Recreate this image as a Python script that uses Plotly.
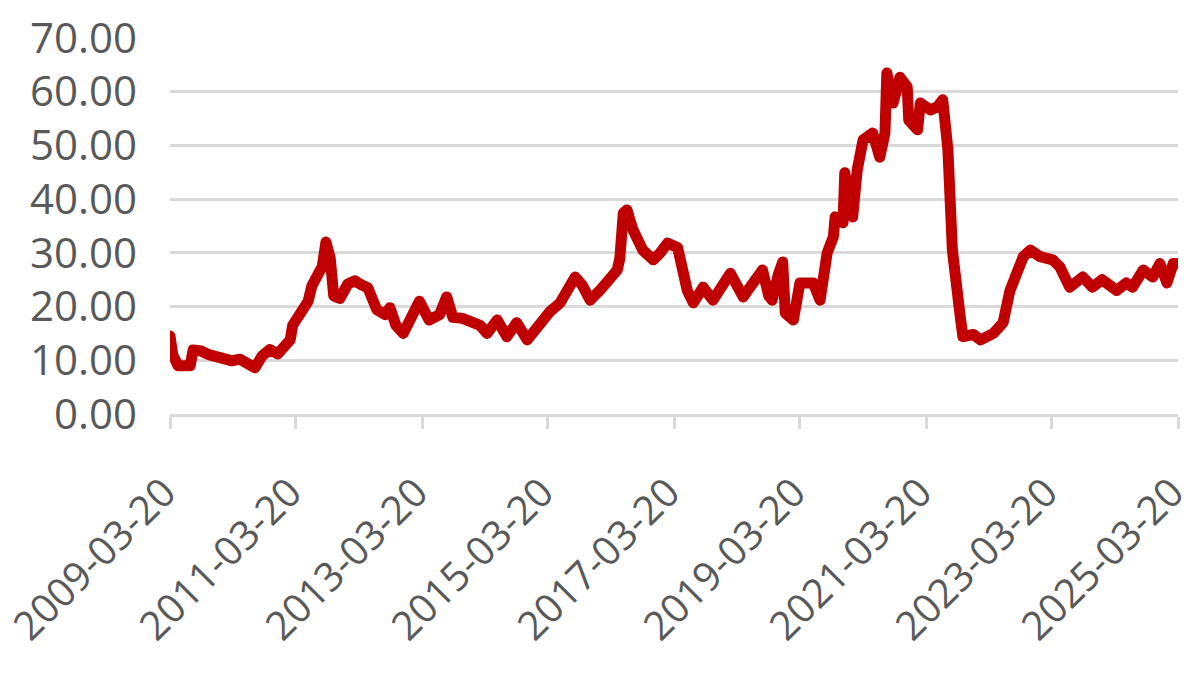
import plotly.graph_objects as go

dates = [
    "2009-03-20", "2009-04-05", "2009-05-05", "2009-06-15", "2009-07-15", "2009-08-01",
    "2009-09-10", "2009-11-05", "2009-12-20", "2010-02-05", "2010-03-15", "2010-04-30",
    "2010-06-15", "2010-07-25", "2010-09-05", "2010-10-20", "2010-12-05", "2011-01-15",
    "2011-02-15", "2011-03-01", "2011-04-15", "2011-05-10", "2011-05-30", "2011-06-20",
    "2011-07-25", "2011-08-20", "2011-09-10", "2011-10-05", "2011-10-25", "2011-11-30",
    "2012-01-15", "2012-02-25", "2012-04-05", "2012-05-10", "2012-07-01", "2012-08-20",
    "2012-09-15", "2012-10-20", "2012-12-01", "2013-01-10", "2013-03-05", "2013-04-30",
    "2013-06-30", "2013-08-10", "2013-09-15", "2013-11-10", "2014-01-05", "2014-02-20",
    "2014-04-01", "2014-05-30", "2014-07-25", "2014-09-20", "2014-11-20", "2015-02-01",
    "2015-03-30", "2015-05-30", "2015-07-15", "2015-08-25", "2015-10-05", "2015-11-20",
    "2016-01-15", "2016-03-15", "2016-04-25", "2016-05-10", "2016-05-30", "2016-06-20",
    "2016-07-25", "2016-09-20", "2016-11-20", "2016-12-30", "2017-02-10", "2017-04-10",
    "2017-05-15", "2017-06-05", "2017-07-10", "2017-09-05", "2017-11-01", "2017-12-15",
    "2018-02-10", "2018-04-25", "2018-06-15", "2018-08-15", "2018-09-20", "2018-10-10",
    "2018-11-15", "2018-12-10", "2018-12-25", "2019-02-10", "2019-03-20", "2019-06-05",
    "2019-07-15", "2019-08-25", "2019-09-30", "2019-10-10", "2019-11-25", "2019-12-05",
    "2020-01-20", "2020-02-15", "2020-03-20", "2020-05-15", "2020-06-25", "2020-07-25",
    "2020-08-05", "2020-09-10", "2020-10-20", "2020-12-01", "2020-12-10", "2021-01-30",
    "2021-02-15", "2021-04-15", "2021-05-25", "2021-06-25", "2021-07-25", "2021-08-20",
    "2021-10-05", "2021-10-20", "2021-12-20", "2022-01-30", "2022-04-15", "2022-06-10",
    "2022-07-20", "2022-09-01", "2022-10-05", "2022-11-15", "2023-01-10", "2023-03-25",
    "2023-05-05", "2023-07-01", "2023-09-15", "2023-11-10", "2024-01-05", "2024-03-30",
    "2024-05-25", "2024-06-30", "2024-08-30", "2024-10-25", "2024-12-05", "2025-01-15",
    "2025-02-20", "2025-03-20",
]

values = [
    14.5, 11.0, 9.0, 8.8, 9.0, 11.9,
    11.8, 11.0, 10.6, 10.4, 9.9, 10.2,
    9.2, 8.6, 10.8, 12.0, 11.2, 12.8,
    13.8, 16.5, 18.6, 19.4, 21.0, 23.8,
    25.9, 27.5, 32.0, 29.0, 22.0, 21.5,
    24.2, 24.8, 24.0, 23.5, 19.4, 18.5,
    19.8, 16.5, 15.0, 18.0, 21.0, 17.5,
    18.5, 21.8, 18.0, 17.8, 17.3, 16.5,
    15.0, 17.5, 14.4, 17.0, 13.8, 17.0,
    19.0, 20.7, 23.5, 25.5, 24.0, 21.2,
    23.0, 25.0, 26.8, 29.0, 37.4, 38.0,
    34.3, 30.5, 28.7, 30.0, 31.8, 31.0,
    26.0, 23.0, 20.7, 23.6, 21.2, 23.5,
    26.2, 21.8, 24.0, 26.8, 22.0, 21.2,
    26.0, 28.3, 18.8, 17.5, 24.4, 24.4,
    21.2, 30.0, 33.0, 36.7, 35.6, 44.9,
    36.7, 45.4, 51.0, 52.3, 47.8, 52.3,
    63.5, 57.9, 62.7, 60.9, 54.7, 52.9,
    57.9, 56.6, 57.2, 58.5, 49.2, 30.5,
    18.0, 14.4, 14.8, 13.8, 15.0, 17.0,
    23.0, 27.4, 29.3, 30.5, 29.3, 28.7,
    27.4, 23.6, 25.5, 23.6, 25.0, 23.0,
    24.4, 23.6, 26.8, 25.5, 28.0, 24.4,
    28.0, 28.0,
]

tick_dates = ["2009-03-20", "2011-03-20", "2013-03-20", "2015-03-20", "2017-03-20",
              "2019-03-20", "2021-03-20", "2023-03-20", "2025-03-20"]
tick_labels = list(tick_dates)

y_ticks = [0, 10, 20, 30, 40, 50, 60, 70]

fig = go.Figure()
fig.add_trace(go.Scatter(
    x=dates, y=values, mode="lines",
    line=dict(color="#C00000", width=11),
    showlegend=False,
))

grid = "#D9D9D9"
fig.update_layout(
    width=1197, height=675,
    margin=dict(l=170, r=19, t=38, b=261),
    paper_bgcolor="white", plot_bgcolor="white",
    font=dict(family="Open Sans, sans-serif", color="#595959"),
    xaxis=dict(
        type="date", automargin=False,
        range=["2009-03-20", "2025-03-20"],
        tickmode="array", tickvals=tick_dates, ticktext=tick_labels,
        tickangle=-45, tickfont=dict(size=40, color="#595959"),
        ticklabeloverflow="allow",
        ticklabelstandoff=24, ticklabelshift=-6,
        showgrid=False, zeroline=False,
        showline=True, linecolor=grid, linewidth=3,
        ticks="outside", ticklen=12, tickwidth=3, tickcolor=grid,
    ),
    yaxis=dict(
        automargin=False,
        range=[0, 70], tickmode="array", tickvals=y_ticks,
        tickformat=".2f", tickfont=dict(size=42, color="#595959"),
        showgrid=True, gridcolor=grid, gridwidth=3,
        zeroline=False, showline=False, ticks="",
        ticklabelstandoff=32,
    ),
)

post = """
document.body.style.margin = '0';
document.querySelectorAll('.scatterlayer path.js-line').forEach(function(p){
  p.style.strokeLinejoin = 'round';
  p.style.strokeLinecap = 'round';
});
"""

fig.write_html("out.html", post_script=post, config={"displayModeBar": False})
